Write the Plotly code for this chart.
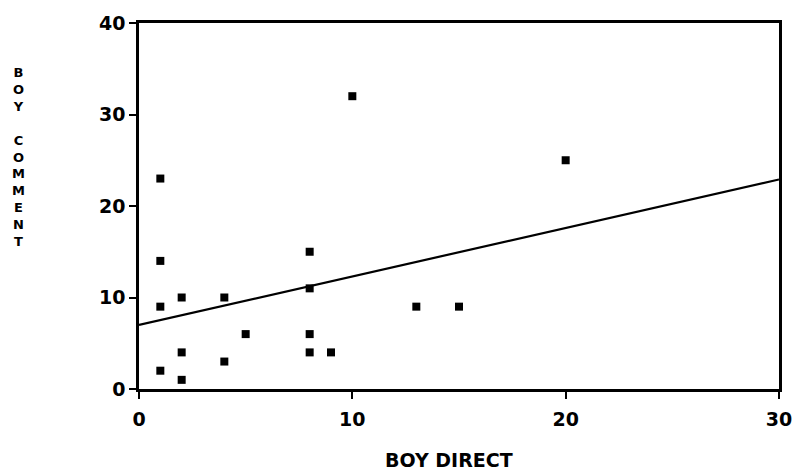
import plotly.graph_objects as go

# Data
boy_direct = [1, 1, 1, 1, 2, 2, 2, 4, 4, 5, 8, 8, 8, 8, 9, 10, 13, 15, 20]
boy_comment = [23, 14, 9, 2, 10, 4, 1, 10, 3, 6, 15, 11, 6, 4, 4, 32, 9, 9, 25]
fit_x = [0, 30]
fit_y = [7.0, 22.9]
x_ticks = [0, 10, 20, 30]
y_ticks = [0, 10, 20, 30, 40]
x_title = "BOY DIRECT"
y_title = "BOY COMMENT"

W, H = 798, 476
L, R, T, B = 139, 19, 23, 87
FONT = "DejaVu Sans"

fig = go.Figure()
fig.add_trace(go.Scatter(x=fit_x, y=fit_y, mode="lines",
                         line=dict(color="black", width=2.2), hoverinfo="skip"))
fig.add_trace(go.Scatter(x=boy_direct, y=boy_comment, mode="markers",
                         marker=dict(symbol="square", size=8, color="black")))

axis_common = dict(showline=True, linecolor="black", linewidth=2.5, mirror=True,
                   ticks="outside", ticklen=7, tickwidth=2, tickcolor="black",
                   showgrid=False, zeroline=False, automargin=False,
                   tickfont=dict(family=FONT, size=19, color="black", weight="bold"))
fig.update_xaxes(range=[0, 30], tickvals=x_ticks, ticklabelstandoff=4, **axis_common)
fig.update_yaxes(range=[0, 40], tickvals=y_ticks, **axis_common)

plot_w = W - L - R
plot_h = H - T - B

# x-axis title
fig.add_annotation(text=x_title, xref="paper", yref="paper",
                   x=(449 - L) / plot_w, y=-(460 - (H - B)) / plot_h,
                   showarrow=False, xanchor="center", yanchor="middle",
                   font=dict(family=FONT, size=19, color="black", weight="bold"))

# stacked (upright letters) y-axis title
stacked = "<br>".join(ch if ch != " " else "" for ch in y_title)
fig.add_annotation(text=stacked, xref="paper", yref="paper",
                   x=-(L - 18) / plot_w, y=((H - B) - 157) / plot_h,
                   showarrow=False, xanchor="center", yanchor="middle", align="center",
                   font=dict(family=FONT, size=13, color="black", weight="bold"))

fig.update_layout(width=W, height=H, margin=dict(l=L, r=R, t=T, b=B),
                  paper_bgcolor="white", plot_bgcolor="white", showlegend=False)

fig.write_html("out.html", config={"displayModeBar": False},
               post_script="document.body.style.margin='0';")
